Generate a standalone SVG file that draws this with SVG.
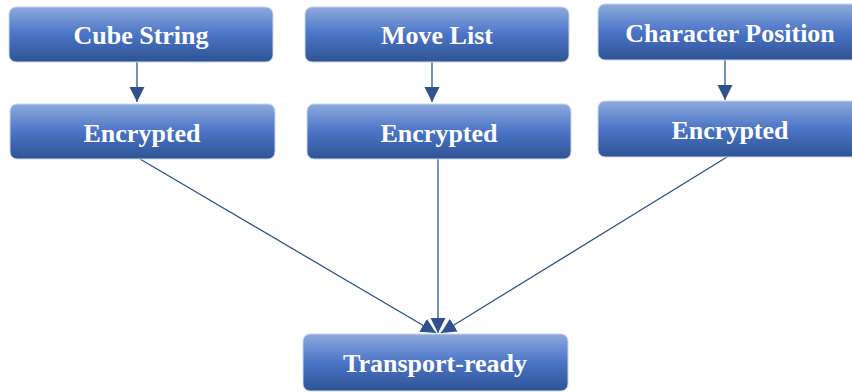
<svg xmlns="http://www.w3.org/2000/svg" width="852" height="392" viewBox="0 0 852 392">
  <style>
    .box { fill: url(#boxFill); stroke: #c9d6ee; stroke-width: 1; }
    .label { font-family: "Liberation Serif", "Times New Roman", serif; font-weight: bold; font-size: 26px; fill: #ffffff; text-anchor: middle; }
    .link { stroke: #2f528f; stroke-width: 1.3; fill: none; marker-end: url(#head); }
  </style>
  <defs>
    <linearGradient id="boxFill" x1="0" y1="0" x2="0" y2="1">
      <stop offset="0" stop-color="#8eaadc"/>
      <stop offset="0.5" stop-color="#4a74c6"/>
      <stop offset="1" stop-color="#2f5394"/>
    </linearGradient>
    <marker id="head" markerUnits="userSpaceOnUse" markerWidth="16" markerHeight="16" viewBox="0 0 16 16" refX="15" refY="8" orient="auto">
      <path d="M0,0.5 L15,8 L0,15.5 Z" fill="#2f528f"/>
    </marker>
  </defs>

  <g id="connectors">
    <line class="link" x1="137" y1="62" x2="137" y2="102"/>
    <line class="link" x1="432" y1="62" x2="432" y2="102"/>
    <line class="link" x1="725" y1="60" x2="725" y2="100"/>
    <line class="link" x1="140" y1="159" x2="436" y2="333"/>
    <line class="link" x1="438" y1="159" x2="438" y2="333"/>
    <line class="link" x1="727" y1="157" x2="441" y2="333"/>
  </g>

  <g id="cube-string">
    <rect class="box" x="9" y="7" width="264" height="55" rx="7"/>
    <text class="label" x="141" y="44">Cube String</text>
  </g>
  <g id="move-list">
    <rect class="box" x="305" y="7" width="264" height="55" rx="7"/>
    <text class="label" x="437" y="44">Move List</text>
  </g>
  <g id="character-position">
    <rect class="box" x="598" y="4" width="264" height="56" rx="7"/>
    <text class="label" x="730" y="42">Character Position</text>
  </g>
  <g id="encrypted-1">
    <rect class="box" x="10" y="104" width="265" height="55" rx="7"/>
    <text class="label" x="142" y="142">Encrypted</text>
  </g>
  <g id="encrypted-2">
    <rect class="box" x="307" y="104" width="264" height="55" rx="7"/>
    <text class="label" x="439" y="142">Encrypted</text>
  </g>
  <g id="encrypted-3">
    <rect class="box" x="598" y="101" width="264" height="56" rx="7"/>
    <text class="label" x="730" y="139">Encrypted</text>
  </g>
  <g id="transport-ready">
    <rect class="box" x="303" y="334" width="265" height="57" rx="7"/>
    <text class="label" x="435" y="372">Transport-ready</text>
  </g>
</svg>
